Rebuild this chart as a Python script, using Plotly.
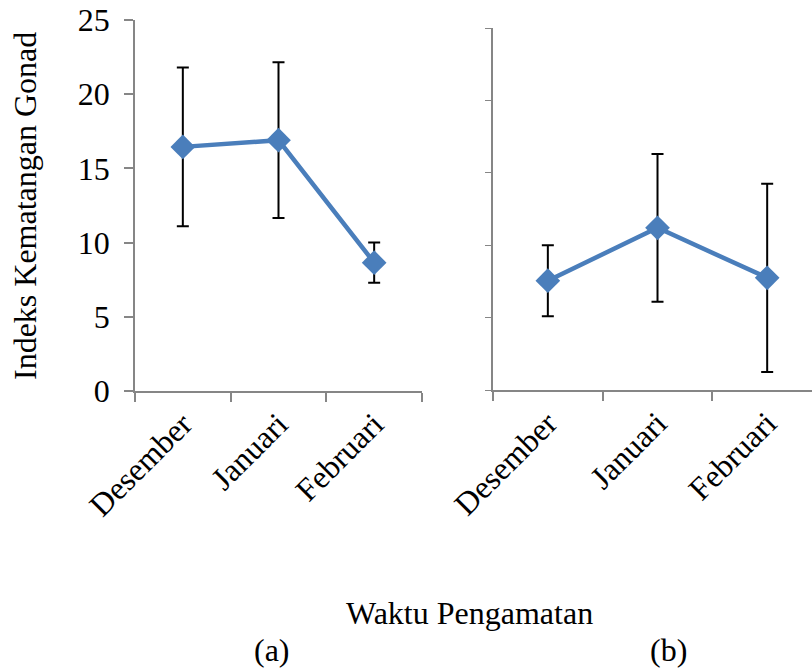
import plotly.graph_objects as go

months = ["Desember", "Januari", "Februari"]
mean_a = [16.45, 16.9, 8.65]
err_a = [5.35, 5.25, 1.35]
mean_b = [7.55, 11.2, 7.75]
err_b = [2.45, 5.1, 6.5]
y_ticks = [0, 5, 10, 15, 20, 25]

W, H = 812, 670
LINE = "#4A7EBB"
AX = "#868686"
FONT = "Liberation Serif"
FS = 32

fig = go.Figure()
for xa, ya, m, e in [("x", "y", mean_a, err_a), ("x2", "y2", mean_b, err_b)]:
    fig.add_trace(go.Scatter(
        x=months, y=m, xaxis=xa, yaxis=ya, mode="lines+markers",
        line=dict(color=LINE, width=4.5),
        marker=dict(symbol="diamond", size=19, color=LINE),
        error_y=dict(type="data", array=e, visible=True, color="black",
                     thickness=2, width=6),
        showlegend=False, hoverinfo="skip"))

def px(x):
    return x / W

def py(y):
    return (H - y) / H

xcommon = dict(type="category", showline=True, linecolor=AX, linewidth=1.5,
               ticks="outside", tickson="boundaries", ticklen=9, tickcolor=AX,
               tickwidth=1.5, tickangle=-45, showgrid=False, zeroline=False,
               automargin=False,
               tickfont=dict(family=FONT, size=FS, color="black"))

fig.update_layout(
    width=W, height=H, margin=dict(l=0, r=0, t=0, b=0, autoexpand=False),
    paper_bgcolor="white", plot_bgcolor="white",
    xaxis=dict(**xcommon, anchor="y", domain=[px(135), px(422)],
               range=[-0.5, 2.5]),
    yaxis=dict(domain=[py(391), py(20)], range=[0, 25], tickvals=y_ticks,
               showline=True, linecolor=AX, linewidth=1.5, ticks="outside",
               ticklen=9, tickcolor=AX, tickwidth=1.5, showgrid=False,
               zeroline=False, anchor="x", automargin=False,
               ticklabelstandoff=8,
               tickfont=dict(family=FONT, size=FS, color="black")),
    xaxis2=dict(**xcommon, anchor="y2", domain=[px(493), 1.0],
                range=[-0.5, 2.5 - (822 - 812) / 109.5]),
    yaxis2=dict(domain=[py(390), py(28)], range=[0, 25], tickvals=y_ticks,
                showline=True, linecolor=AX, linewidth=1.5, ticks="outside",
                ticklen=6, tickcolor=AX, tickwidth=1, showgrid=False,
                zeroline=False, anchor="x2", showticklabels=False,
                automargin=False),
    annotations=[
        dict(text="Indeks Kematangan Gonad", x=px(25), y=py(206),
             xref="paper", yref="paper", showarrow=False, textangle=-90,
             xanchor="center", yanchor="middle",
             font=dict(family=FONT, size=FS, color="black")),
        dict(text="Waktu Pengamatan", x=px(469), y=py(613), xref="paper",
             yref="paper", showarrow=False, xanchor="center", yanchor="middle",
             font=dict(family=FONT, size=FS, color="black")),
        dict(text="(a)", x=px(272), y=py(669), xref="paper", yref="paper",
             showarrow=False, xanchor="center", yanchor="bottom", borderpad=0,
             font=dict(family=FONT, size=FS, color="black")),
        dict(text="(b)", x=px(668), y=py(669), xref="paper", yref="paper",
             showarrow=False, xanchor="center", yanchor="bottom", borderpad=0,
             font=dict(family=FONT, size=FS, color="black")),
    ],
)

fig.write_html("out.html")
